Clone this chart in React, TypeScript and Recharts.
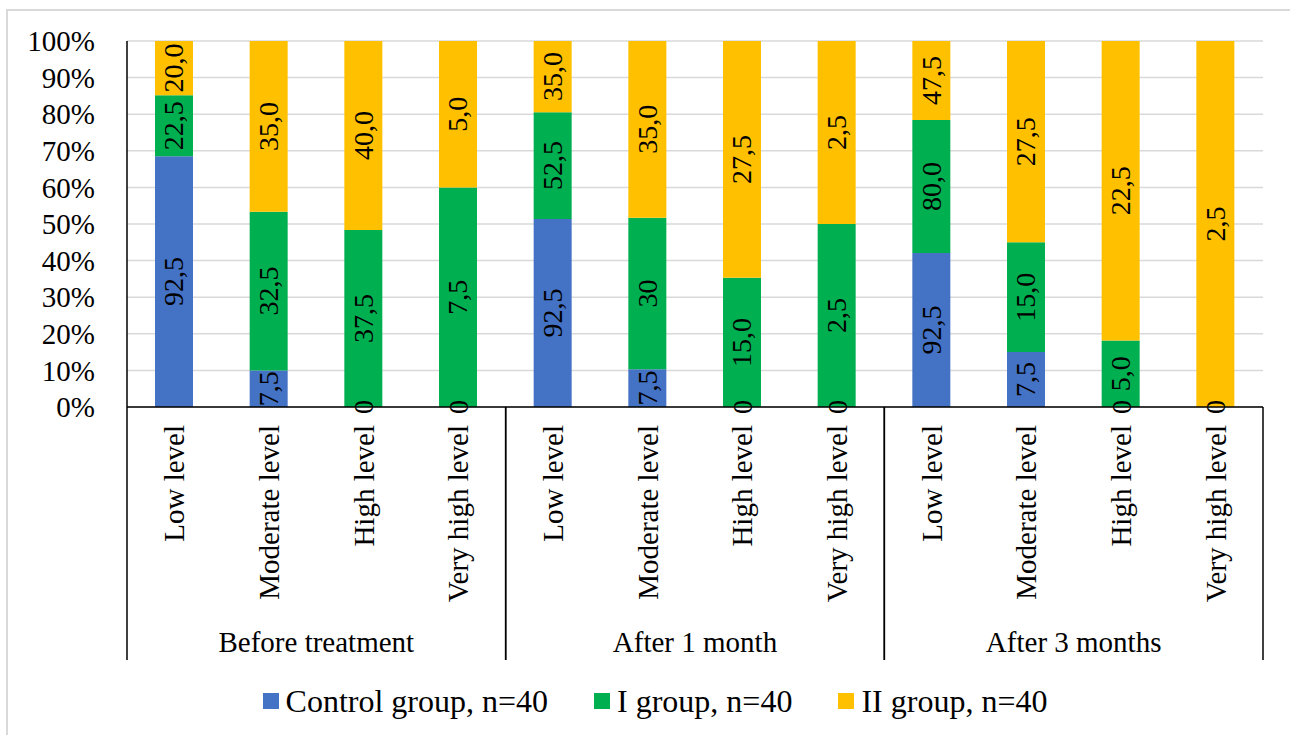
import React from "react";
import {
  BarChart,
  Bar,
  XAxis,
  YAxis,
  CartesianGrid,
  Legend,
  LabelList,
} from "recharts";

// Time points and severity levels (two-level category axis)
const periods = ["Before treatment", "After 1 month", "After 3 months"];
const levels = ["Low level", "Moderate level", "High level", "Very high level"];

// Percent of patients per level, as printed (decimal comma)
const controlGroup = ["92,5", "7,5", "0", "0", "92,5", "7,5", "0", "0", "92,5", "7,5", "0", "0"];
const firstGroup = ["22,5", "32,5", "37,5", "7,5", "52,5", "30", "15,0", "2,5", "80,0", "15,0", "5,0", "0"];
const secondGroup = ["20,0", "35,0", "40,0", "5,0", "35,0", "35,0", "27,5", "2,5", "47,5", "27,5", "22,5", "2,5"];

const seriesNames = ["Control group, n=40", "I group, n=40", "II group, n=40"];
const seriesColors = ["#4472C4", "#00B050", "#FFC000"];

const yTicks = [0, 0.1, 0.2, 0.3, 0.4, 0.5, 0.6, 0.7, 0.8, 0.9, 1];

const FONT = '"Times New Roman", Times, "Liberation Serif", "DejaVu Serif", serif';
const WIDTH = 1290;
const HEIGHT = 735;
const PLOT_LEFT = 127;
const PLOT_RIGHT = 1263;
const PLOT_TOP = 41;
const PLOT_BOTTOM = 407;

const toNumber = (s: string) => parseFloat(s.replace(",", "."));

const keys = ["control", "first", "second"];

const data = periods.flatMap((period, p) =>
  levels.map((level, l) => {
    const i = p * levels.length + l;
    return {
      period,
      level,
      control: toNumber(controlGroup[i]),
      controlLabel: controlGroup[i],
      first: toNumber(firstGroup[i]),
      firstLabel: firstGroup[i],
      second: toNumber(secondGroup[i]),
      secondLabel: secondGroup[i],
    };
  })
);

const band = (PLOT_RIGHT - PLOT_LEFT) / data.length;

const textStyle = { fontFamily: FONT, fill: "#000" };

// rotated level name, zero-value labels on the axis, period label and separators
function CategoryTick(props: any) {
  const { x, y, payload, index } = props;
  const row: any = data[index];
  const pos = index % levels.length;
  const ty = y + 18;
  const hasZero = keys.some((k) => row[k] === 0);
  return (
    <g>
      <text
        x={x}
        y={ty}
        transform={`rotate(-90, ${x}, ${ty})`}
        textAnchor="end"
        dy="0.35em"
        fontSize={29}
        style={textStyle}
      >
        {payload.value}
      </text>
      {hasZero && (
        <text
          x={x}
          y={y}
          transform={`rotate(-90, ${x}, ${y})`}
          textAnchor="middle"
          dominantBaseline="central"
          fontSize={28}
          style={textStyle}
        >
          0
        </text>
      )}
      {pos === 0 && (
        <>
          <line x1={x - band / 2} x2={x - band / 2} y1={y} y2={y + 253} stroke="#000" strokeWidth={1.5} />
          <text x={x + band * 1.5} y={y + 245} textAnchor="middle" fontSize={29} style={textStyle}>
            {row.period}
          </text>
        </>
      )}
      {pos === levels.length - 1 && (
        <line x1={x + band / 2} x2={x + band / 2} y1={y} y2={y + 253} stroke="#000" strokeWidth={1.5} />
      )}
    </g>
  );
}

// value written vertically in the middle of its segment
function SegmentLabel(props: any) {
  const x = Number(props.x);
  const y = Number(props.y);
  const w = Number(props.width);
  const h = Number(props.height);
  const cx = x + w / 2;
  const cy = y + h / 2;
  return (
    <text
      x={cx}
      y={cy}
      transform={`rotate(-90, ${cx}, ${cy})`}
      textAnchor="middle"
      dominantBaseline="central"
      fontSize={28}
      style={textStyle}
    >
      {props.value}
    </text>
  );
}

function LegendContent({ payload }: any) {
  return (
    <div style={{ display: "flex", justifyContent: "center", alignItems: "center" }}>
      {(payload || []).map((item: any, i: number) => (
        <div
          key={item.value}
          style={{
            display: "flex",
            alignItems: "center",
            marginRight: i < payload.length - 1 ? 46 : 0,
          }}
        >
          <span style={{ width: 16, height: 16, background: item.color, marginRight: 7 }} />
          <span style={{ fontFamily: FONT, fontSize: 32, lineHeight: "32px", color: "#000" }}>
            {item.value}
          </span>
        </div>
      ))}
    </div>
  );
}

export default function App() {
  return (
    <div
      style={{
        position: "absolute",
        left: 0,
        top: 0,
        width: WIDTH,
        height: HEIGHT,
        overflow: "hidden",
        background: "#fff",
        fontFamily: FONT,
      }}
    >
      <div
        style={{
          position: "absolute",
          left: 6,
          top: 9,
          width: WIDTH + 100,
          height: HEIGHT + 100,
          borderTop: "2px solid #D9D9D9",
          borderLeft: "2px solid #D9D9D9",
        }}
      />
      <div style={{ position: "absolute", left: 0, top: 0 }}>
        <BarChart
          width={WIDTH}
          height={HEIGHT}
          data={data}
          stackOffset="expand"
          margin={{ top: PLOT_TOP, right: WIDTH - PLOT_RIGHT, left: 0, bottom: 0 }}
        >
          <CartesianGrid vertical={false} stroke="#D9D9D9" strokeWidth={1.5} />
          <XAxis
            dataKey="level"
            interval={0}
            height={HEIGHT - PLOT_BOTTOM}
            tickLine={false}
            tickSize={0}
            tickMargin={0}
            axisLine={{ stroke: "#000", strokeWidth: 1.5 }}
            tick={<CategoryTick />}
          />
          <YAxis
            width={PLOT_LEFT}
            domain={[0, 1]}
            ticks={yTicks}
            interval={0}
            tickFormatter={(v: number) => `${Math.round(v * 100)}%`}
            tickLine={false}
            tickSize={0}
            tickMargin={32}
            axisLine={{ stroke: "#000", strokeWidth: 1.5 }}
            tick={{ fill: "#000", fontSize: 29, fontFamily: FONT }}
          />
          <Legend
            verticalAlign="middle"
            align="center"
            content={<LegendContent />}
            wrapperStyle={{ top: 685, left: 10, width: WIDTH, height: 32 }}
          />
          {keys.map((key, i) => (
            <Bar
              key={key}
              dataKey={key}
              name={seriesNames[i]}
              stackId="a"
              fill={seriesColors[i]}
              barSize={38}
              isAnimationActive={false}
            >
              <LabelList dataKey={`${key}Label`} content={<SegmentLabel />} />
            </Bar>
          ))}
        </BarChart>
      </div>
    </div>
  );
}
